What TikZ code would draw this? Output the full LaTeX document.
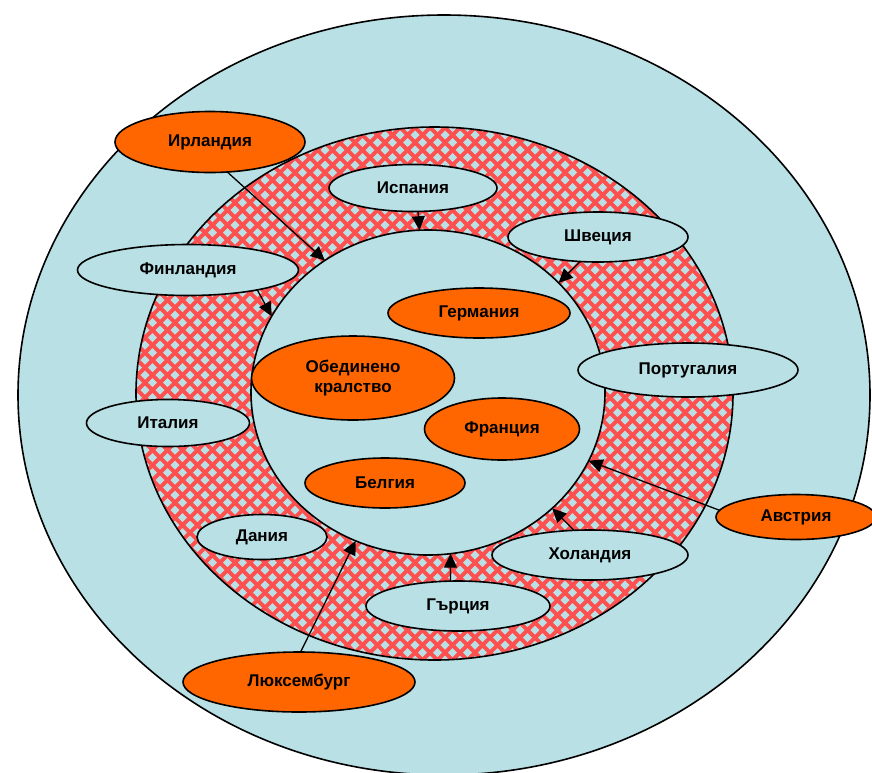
\documentclass[tikz,border=0pt]{standalone}
\usepackage{fontspec}
\setmainfont{Liberation Sans}
\usetikzlibrary{shapes.geometric,arrows.meta}
\definecolor{lblue}{RGB}{185,224,228}
\definecolor{orng}{RGB}{255,102,0}
\definecolor{rred}{RGB}{255,80,80}
\tikzset{
  country/.style={ellipse, draw=black, line width=1.6pt, inner sep=0pt, outer sep=0pt,
    font=\fontsize{17}{20}\selectfont\bfseries, align=center, text=black},
  bnode/.style={country, fill=lblue},
  onode/.style={country, fill=orng},
  arr/.style={line width=1.3pt, draw=black, -{Triangle[length=14pt,width=13pt]}},
  ringline/.style={line width=1.6pt, draw=black}
}
\begin{document}
\begin{tikzpicture}[x=1pt,y=-1pt]
\useasboundingbox (0,0) rectangle (872,772);
% outer ellipse
\draw[ringline, fill=lblue] (444,395) ellipse [x radius=426, y radius=380];
% checkered ring
\begin{scope}
  \clip (434.5,393.5) ellipse [x radius=298.5, y radius=266.5];
  \fill[rred] (120,115) rectangle (745,670);
  \fill[lblue] \foreach \i in {0,...,41} { \foreach \j in {0,...,37} {
      (\i*15+130-4.5, \j*15+120) -- ++(4.5,4.5) -- ++(4.5,-4.5) -- ++(-4.5,-4.5) -- cycle
      (\i*15+137.5-4.5, \j*15+127.5) -- ++(4.5,4.5) -- ++(4.5,-4.5) -- ++(-4.5,-4.5) -- cycle
    } };
\end{scope}
\draw[ringline] (434.5,393.5) ellipse [x radius=298.5, y radius=266.5];
% inner ellipse
\node[ellipse, draw=black, line width=1.6pt, fill=lblue, inner sep=0pt, outer sep=0pt,
  minimum width=354, minimum height=325] (inner) at (428,392.5) {};
% countries
\node[onode, minimum width=190, minimum height=61] (irl) at (210,142) {Ирландия};
\node[bnode, minimum width=168, minimum height=47] (isp) at (413,188) {Испания};
\node[bnode, minimum width=180, minimum height=50] (shv) at (598,237) {Швеция};
\node[bnode, minimum width=221, minimum height=51] (fin) at (188,270) {Финландия};
\node[onode, minimum width=182, minimum height=50] (ger) at (479,313) {Германия};
\node[onode, minimum width=203, minimum height=84] (uk) at (353,378) {Обединено\\кралство};
\node[bnode, minimum width=220, minimum height=54] (por) at (688,370) {Португалия};
\node[bnode, minimum width=163, minimum height=47] (ita) at (168,423) {Италия};
\node[onode, minimum width=155, minimum height=62] (fra) at (502,429) {Франция};
\node[onode, minimum width=160, minimum height=50] (bel) at (385,483) {Белгия};
\node[bnode, minimum width=130, minimum height=45] (dan) at (262,537) {Дания};
\node[bnode, minimum width=196, minimum height=50] (hol) at (590,555) {Холандия};
\node[onode, minimum width=160, minimum height=45] (avs) at (796,517) {Австрия};
\node[bnode, minimum width=184, minimum height=50] (gre) at (458,606) {Гърция};
\node[onode, minimum width=232, minimum height=60] (lux) at (299,682) {Люксембург};
% arrows
\draw[arr] (irl.300) -- (inner.128.7);
\draw[arr] (isp.-78) -- (inner.93.5);
\draw[arr] (shv.234.5) -- (inner.40.4);
\draw[arr] (fin.-16) -- (inner.154.8);
\draw[arr] (avs.175) -- (inner.-23.9);
\draw[arr] (hol.123) -- (inner.-43.2);
\draw[arr] (gre.107) -- (inner.-82.3);
\draw[arr] (lux.87) -- (inner.-116);
\end{tikzpicture}
\end{document}
